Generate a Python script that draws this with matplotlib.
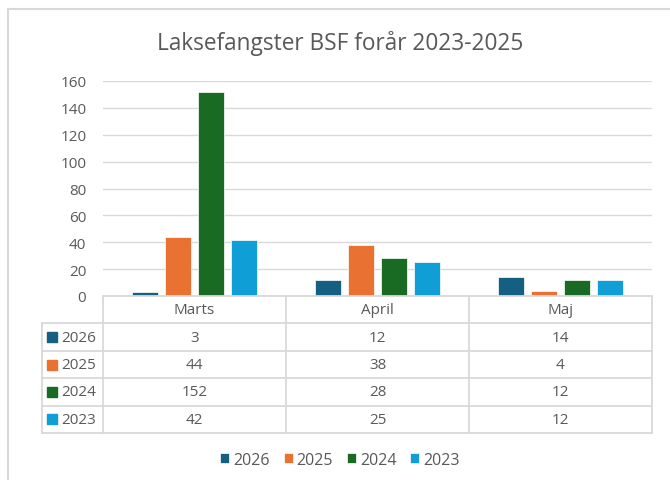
import matplotlib
matplotlib.use("Agg")
import matplotlib.pyplot as plt
from matplotlib.lines import Line2D

categories = ["Marts", "April", "Maj"]
series_names = ["2026", "2025", "2024", "2023"]
v2026 = [3, 12, 14]
v2025 = [44, 38, 4]
v2024 = [152, 28, 12]
v2023 = [42, 25, 12]
series_values = [v2026, v2025, v2024, v2023]
colors = ["#156082", "#E97132", "#196B24", "#0F9ED5"]
yticks = [0, 20, 40, 60, 80, 100, 120, 140, 160]

TXT = "#595959"
GRID = "#D9D9D9"
W, H = 670, 481
plt.rcParams['font.family'] = ['Open Sans', 'DejaVu Sans']

fig = plt.figure(figsize=(W / 100, H / 100), dpi=100)
fig.patch.set_facecolor("white")

def fx(x):
    return x / W

def fy(y):
    return 1 - y / H

# outer chart border (top and left visible)
fig.add_artist(Line2D([fx(8), 1.0], [fy(10), fy(10)], transform=fig.transFigure, color=GRID, lw=1.5))
fig.add_artist(Line2D([fx(8), fx(8)], [fy(10), 0.0], transform=fig.transFigure, color=GRID, lw=1.5))

fig.text(fx(340), fy(43), "Laksefangster BSF forår 2023-2025", ha="center", va="center",
         fontsize=16.3, color=TXT)

ax = fig.add_axes([fx(103), fy(297), 549 / W, 215 / H])
ax.set_xlim(-0.5, len(categories) - 0.5)
ax.set_ylim(0, 160)
for s in ax.spines.values():
    s.set_visible(False)
ax.set_yticks(yticks)
ax.set_yticklabels([str(t) for t in yticks])
ax.tick_params(axis="y", length=0, pad=12, labelsize=11, labelcolor=TXT)
ax.set_xticks([])
ax.yaxis.grid(True, color=GRID, linewidth=1)
ax.set_axisbelow(True)

bw = 0.142
step = 0.182
handles = []
for i, (name, vals, c) in enumerate(zip(series_names, series_values, colors)):
    xs = [k + (i - 1.5) * step for k in range(len(categories))]
    b = ax.bar(xs, vals, width=bw, color=c, edgecolor="white", linewidth=0.5, label=name)
    handles.append(b)

# data table
tax = fig.add_axes([fx(42), fy(434), 610 / W, 137 / H])
left = -0.5 - 61 / 183
tax.set_xlim(left, len(categories) - 0.5)
tax.set_ylim(5, 0)
tax.axis("off")
lw = 1.3
tax.plot([-0.5, 2.5], [0, 0], color=GRID, lw=lw, clip_on=False)
for r in range(1, 6):
    tax.plot([left, 2.5], [r, r], color=GRID, lw=lw, clip_on=False)
tax.plot([left, left], [1, 5], color=GRID, lw=lw, clip_on=False)
for xv in [-0.5, 0.5, 1.5, 2.5]:
    tax.plot([xv, xv], [0, 5], color=GRID, lw=lw, clip_on=False)
for k, cat in enumerate(categories):
    tax.text(k, 0.5, cat, ha="center", va="center", fontsize=11, color=TXT)
for i, (name, vals, c) in enumerate(zip(series_names, series_values, colors)):
    y = i + 1.5
    for k, v in enumerate(vals):
        tax.text(k, y, str(v), ha="center", va="center", fontsize=11, color=TXT)
    tax.plot([left + 10.5 / 183], [y], marker="s", markersize=6.5, color=c, clip_on=False)
    tax.text(left + 19 / 183, y, name, ha="left", va="center", fontsize=11, color=TXT)

fig.legend(handles=handles, labels=series_names, loc="center", bbox_to_anchor=(fx(340), fy(461)),
           ncol=4, frameon=False, fontsize=11.5, labelcolor=TXT, handlelength=0.56, handleheight=0.56,
           handletextpad=0.25, columnspacing=0.87)

fig.savefig("out.png", dpi=100, facecolor="white")
